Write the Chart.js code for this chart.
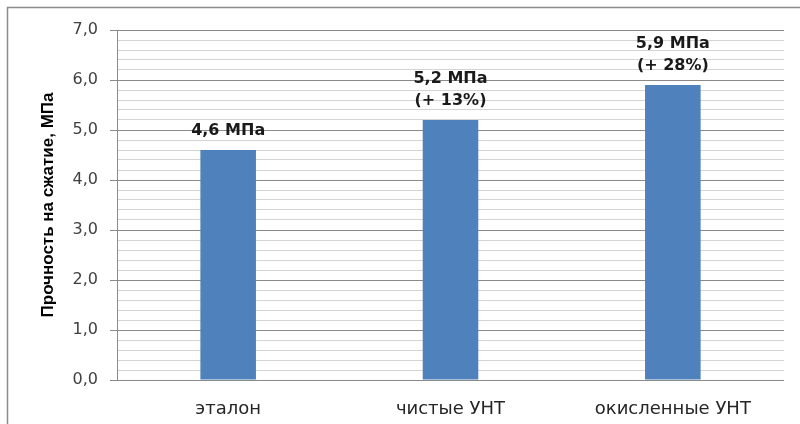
<!DOCTYPE html>
<html>
<head>
<meta charset="utf-8">
<script src="https://cdn.jsdelivr.net/npm/chart.js@4/dist/chart.umd.min.js"></script>
<style>
  html, body { margin: 0; padding: 0; background: #fff; }
  #wrap { width: 800px; height: 424px; }
</style>
</head>
<body>
<div id="wrap"><canvas id="chart"></canvas></div>
<script>
const categories = ["эталон", "чистые УНТ", "окисленные УНТ"];
const strength = [4.6, 5.2, 5.9];
const barLabels = [["4,6 МПа"], ["5,2 МПа", "(+ 13%)"], ["5,9 МПа", "(+ 28%)"]];
const yTitle = "Прочность на сжатие, МПа";

const isMajor = v => Math.abs(v - Math.round(v)) < 1e-6;

// outer frame around the whole chart
const frame = {
	id: "frame",
	beforeDraw(chart) {
		const { ctx } = chart;
		ctx.save();
		ctx.strokeStyle = "#8c8c8c";
		ctx.lineWidth = 1.5;
		ctx.strokeRect(7.5, 7.5, 900, 500);
		ctx.restore();
	},
};

// text above bars
const valueLabels = {
	id: "valueLabels",
	afterDatasetsDraw(chart) {
		const { ctx } = chart;
		const meta = chart.getDatasetMeta(0);
		ctx.save();
		ctx.font = "bold 16px 'DejaVu Sans'";
		ctx.fillStyle = "#1a1a1a";
		ctx.textAlign = "center";
		ctx.textBaseline = "middle";
		meta.data.forEach((bar, i) => {
			const lines = barLabels[i];
			lines.forEach((txt, j) => {
				const y = bar.y - 19 - (lines.length - 1 - j) * 22;
				ctx.fillText(txt, bar.x, y);
			});
		});
		ctx.restore();
	},
};

new Chart(document.getElementById("chart"), {
	type: "bar",
	plugins: [frame, valueLabels],
	data: {
		labels: categories,
		datasets: [
			{
				data: strength,
				backgroundColor: "#4f81bd",
				borderWidth: 0,
				categoryPercentage: 1,
				barPercentage: 0.25,
			},
		],
	},
	options: {
		responsive: true,
		maintainAspectRatio: false,
		animation: false,
		layout: { padding: { top: 30, right: 16, bottom: 0, left: 0 } },
		plugins: {
			legend: { display: false },
			tooltip: { enabled: false },
		},
		scales: {
			x: {
				grid: { display: false },
				border: { display: false },
				ticks: {
					color: "#262626",
					font: { family: "DejaVu Sans", size: 18 },
					padding: 11,
				},
				afterFit(scale) {
					scale.height = 44;
				},
			},
			y: {
				min: 0,
				max: 7,
				border: { color: "#8a8a8a", width: 1 },
				grid: {
					color: ctx => (isMajor(ctx.tick.value) ? "#8a8a8a" : "#d4d4d4"),
					tickColor: ctx => (isMajor(ctx.tick.value) ? "#8a8a8a" : "rgba(0,0,0,0)"),
					tickLength: 7,
					lineWidth: 1,
				},
				ticks: {
					stepSize: 0.2,
					autoSkip: false,
					color: "#404040",
					font: { family: "DejaVu Sans", size: 16 },
					padding: 12,
					callback: v => (isMajor(v) ? Math.round(v).toFixed(1).replace(".", ",") : ""),
				},
				title: {
					display: true,
					text: yTitle,
					color: "#000",
					font: { family: "Liberation Sans", size: 17, weight: "bold" },
					padding: { top: 38, bottom: 0 },
				},
				afterFit(scale) {
					scale.width = 117;
				},
			},
		},
	},
});
</script>
</body>
</html>
